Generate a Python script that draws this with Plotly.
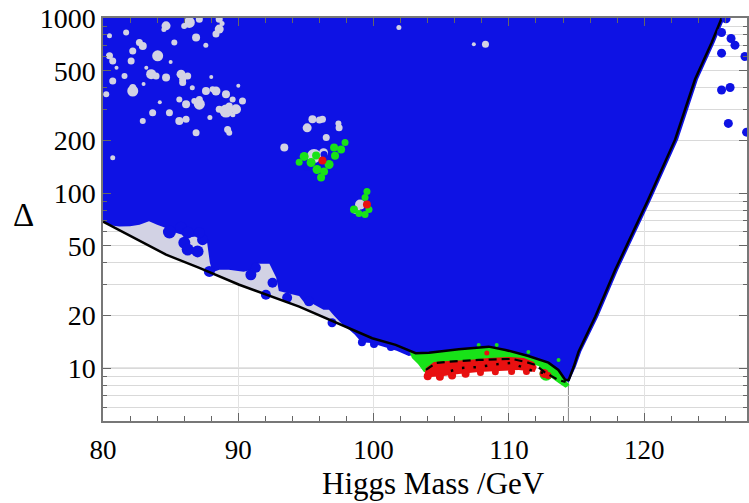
import plotly.graph_objects as go

# ---------------- data ----------------
# black boundary curve
bound_mass = [80.0, 84.66, 87.12, 90.07, 94.50, 98.18, 99.90, 101.63, 103.11, 104.09, 106.30, 108.51,
              109.75, 111.44, 112.92, 113.66, 114.17, 114.42, 114.79, 115.15, 116.38, 117.86, 120.30,
              122.29, 123.76, 124.99, 125.73]
bound_delta = [68.8, 44.5, 37.4, 30.0, 22.5, 17.0, 14.85, 13.6, 12.19, 12.28, 12.85, 13.29,
               12.73, 11.76, 10.77, 9.78, 8.57, 8.57, 10.2, 12.45, 19.7, 36.5, 91.9,
               202.7, 446.8, 724, 1000]

# blue (allowed) region outline
blue_mass = [80.0, 80.5, 81.2, 82.0, 82.7, 83.4, 84.0, 84.6, 85.2, 85.8, 86.4, 87.2, 87.7, 87.9, 88.1,
             88.6, 89.3, 90.4, 91.0, 91.5, 92.3, 92.8, 93.0, 93.8, 94.5, 94.9, 95.4, 95.8, 96.3, 96.7,
             97.1, 97.45, 97.8, 98.2, 98.6, 99.1, 99.8, 100.8, 101.7, 102.6, 103.1, 104.09, 106.30,
             108.51, 109.75, 111.44, 112.92, 113.66, 114.17, 114.42, 114.95, 115.35, 116.6, 118.08,
             120.52, 122.51, 123.98, 125.21, 125.95, 80.0]
blue_delta = [69.7, 65.5, 64.4, 64.6, 66.1, 69.0, 66.1, 63.5, 60.0, 58.0, 56.0, 57.0, 52.0, 40.0, 35.4,
              36.5, 36.5, 35.6, 36.5, 39.5, 39.5, 33.0, 27.6, 26.6, 25.9, 23.6, 23.6, 22.7, 21.6, 21.6,
              19.9, 18.6, 17.5, 16.6, 15.6, 14.1, 13.96, 13.24, 12.6, 11.76, 12.0, 12.28, 12.85,
              13.29, 12.73, 11.76, 10.77, 9.78, 8.57, 8.3, 10.2, 12.45, 19.7, 36.5,
              91.9, 202.7, 446.8, 724, 1000, 1000]

# blue blobs along the lower edge
blob_mass = [84.91, 85.77, 86.26, 86.01, 86.26, 86.99, 87.36, 87.12, 87.86, 90.93, 92.04, 92.53,
             91.30, 93.61, 95.23, 96.93, 99.14, 100.03, 101.28]
blob_delta = [60.0, 63.5, 59.5, 52.1, 47.6, 46.5, 54.2, 59.5, 35.7, 34.2, 26.3, 30.8,
              37.5, 25.3, 24.1, 18.2, 14.1, 13.77, 13.24]
blob_size = [13, 12, 12, 12, 12, 12, 11, 11, 11, 11, 10, 10, 10, 10, 10, 9, 8, 8, 8]

# light-grey holes inside the blue region
hole_mass = [84.66, 86.38, 86.88, 88.59, 88.35, 82.94, 84.04, 85.27, 80.48, 82.20, 80.72, 83.56,
             82.08, 84.66, 85.77, 86.26, 85.89, 82.20, 80.72, 81.59, 87.61, 88.35, 89.09, 87.12,
             86.14, 89.09, 89.83, 90.31, 85.64, 84.91, 83.67, 86.88, 89.21, 82.94, 80.24, 88.59,
             87.12, 82.69, 81.71, 80.48, 82.20, 83.92, 85.89, 87.12, 88.59, 89.33, 89.58, 88.10,
             86.14, 85.64, 86.75, 89.33, 80.72, 101.87, 108.27, 107.41, 95.48, 96.22, 97.45,
             93.4, 95.09, 96.0, 97.4, 96.5, 95.6, 96.3, 99.0, 98.7,
             84.5, 86.0, 87.6, 88.8, 85.0, 83.2, 81.0, 86.6, 88.0, 89.6, 84.2, 87.9, 90.0, 83.0]
hole_delta = [902, 944, 774, 864, 809, 693, 608, 725, 608, 649, 569, 478,
              569, 457, 478, 467, 428, 383, 437, 467, 383, 383, 367, 322,
              322, 294, 301, 336, 258, 288, 288, 221, 231, 258, 367, 985,
              985, 725, 827, 791, 401, 467, 447, 343, 301, 314, 343, 392,
              264, 343, 336, 221, 159, 884, 709, 709, 264, 264, 236,
              182, 236, 262, 250, 208, 163, 170, 86, 80,
              860, 900, 700, 930, 560, 520, 520, 400, 460, 280, 330, 270, 410, 420]
hole_size = [9, 11, 8, 9, 7, 8, 11, 6, 7, 7, 7, 10,
             7, 8, 9, 7, 7, 11, 7, 6, 8, 9, 8, 11,
             8, 13, 10, 7, 8, 7, 7, 7, 7, 6, 6, 7,
             7, 7, 6, 5, 7, 7, 7, 7, 7, 7, 6, 6,
             7, 6, 6, 6, 5, 5, 7, 4, 8, 7, 7,
             8, 9, 7, 6, 7, 14, 9, 10, 8,
             5, 6, 5, 5, 4, 4, 4, 5, 4, 5, 4, 5, 4, 4]

# blue points inside the island holes
idot_mass = [96.34, 95.75, 95.09]
idot_delta = [166.3, 140.1, 140.1]

# green region (bottom)
green_mass = [102.61, 103.11, 104.09, 106.30, 108.51, 109.75, 111.44, 112.92, 113.66, 114.17, 114.49,
              114.19, 113.67, 113.16, 112.57, 112.20, 111.61, 110.73, 107.77, 105.34, 104.23, 103.72,
              103.28, 102.83]
green_delta = [12.7, 12.19, 12.28, 12.85, 13.29, 12.73, 11.76, 10.77, 9.78, 8.57, 8.02,
               7.75, 8.25, 8.8, 9.53, 10.31, 10.58, 10.31, 10.04, 9.78, 9.28, 9.53,
               10.58, 11.46]

# green points (islands and edge)
gpt_mass = [94.87, 95.38, 95.82, 96.12, 96.34, 96.71, 97.15, 97.60, 97.89, 97.08, 94.50, 95.75,
            99.51, 99.37, 98.55, 98.92, 99.37, 99.66, 107.77, 109.1, 111.44, 113.67, 112.75]
gpt_delta = [162, 149.7, 136.5, 122.9, 133, 145.8, 163.5, 177.7, 194.8, 182.4, 150, 164.1,
             102.1, 94.4, 80.6, 76.4, 75.4, 80.6, 13.6, 13.6, 12.4, 11.16, 9.25]
gpt_size = [9, 9, 9, 8, 8, 9, 8, 8, 7, 8, 7, 8,
            7, 7, 8, 7, 7, 7, 4, 4, 4, 4, 13]

# red region (bottom)
red_mass = [103.79, 103.87, 104.46, 105.57, 107.04, 108.51, 109.99, 111.10, 111.84, 112.06, 111.91,
            110.73, 109.25, 107.77, 106.30, 105.19, 104.23]
red_delta = [9.40, 10.04, 10.87, 11.01, 11.16, 11.46, 11.61, 11.46, 10.87, 10.17, 9.53,
             9.78, 9.65, 9.53, 9.28, 9.03, 8.92]

# red points
rpt_mass = [104.0, 104.9, 105.8, 106.8, 107.9, 109.0, 110.2, 111.3, 112.6, 112.9, 108.37, 96.22, 99.51]
rpt_delta = [9.0, 8.95, 9.1, 9.3, 9.45, 9.55, 9.6, 9.6, 9.35, 9.1, 12.24, 153.7, 86.0]
rpt_size = [8, 8, 8, 8, 7, 7, 7, 7, 9, 7, 5, 8, 8]

# dashed and dotted contours
dash_mass = [103.87, 104.61, 105.34, 107.77, 110.21, 111.24, 111.98, 112.72, 113.67, 114.19]
dash_delta = [9.78, 10.72, 10.87, 11.16, 11.31, 10.87, 10.44, 9.40, 8.57, 8.35]
dot_mass = [105.71, 106.52, 107.77, 109.25, 110.14, 111.10, 111.98, 112.72]
dot_delta = [9.65, 10.04, 10.17, 10.58, 10.72, 10.04, 9.53, 9.40]

# isolated blue points right of the boundary
out_mass = [126.05, 125.72, 126.42, 126.71, 125.72, 127.45, 125.72, 126.35, 126.22, 127.57]
out_delta = [990, 827, 764, 700, 630, 603, 388, 401, 250, 223]

x_ticks = [80, 90, 100, 110, 120]
y_ticks = [10, 20, 50, 100, 200, 500, 1000]
y_minor = [6, 7, 8, 9, 30, 40, 60, 70, 80, 90, 300, 400, 600, 700, 800, 900]
lep_bound = 114.4

BLUE = "rgb(14,18,228)"
GREY = "rgb(210,210,228)"
GREEN = "rgb(24,226,24)"
RED = "rgb(232,16,16)"
FONT = "Liberation Serif"


def dots(x, y, color, size):
    return go.Scatter(x=x, y=y, mode="markers", hoverinfo="skip",
                      marker=dict(color=color, size=size, opacity=1, line=dict(width=0)))


def area(x, y, color):
    return go.Scatter(x=x, y=y, fill="toself", mode="none", fillcolor=color, hoverinfo="skip")


fig = go.Figure()
fig.add_trace(area(bound_mass + [80.0], bound_delta + [1000], GREY))
fig.add_trace(area(blue_mass, blue_delta, BLUE))
fig.add_trace(dots(blob_mass, blob_delta, BLUE, blob_size))
fig.add_trace(dots(hole_mass, hole_delta, GREY, hole_size))
fig.add_trace(dots(idot_mass, idot_delta, BLUE, 7))
fig.add_trace(area(green_mass, green_delta, GREEN))
fig.add_trace(dots(gpt_mass, gpt_delta, GREEN, gpt_size))
fig.add_trace(area(red_mass, red_delta, RED))
fig.add_trace(dots(rpt_mass, rpt_delta, RED, rpt_size))
fig.add_trace(go.Scatter(x=bound_mass, y=bound_delta, mode="lines", hoverinfo="skip",
                         line=dict(color="black", width=2.5)))
fig.add_trace(go.Scatter(x=dash_mass, y=dash_delta, mode="lines", hoverinfo="skip",
                         line=dict(color="black", width=2.2, dash="8px,5px")))
fig.add_trace(go.Scatter(x=dot_mass, y=dot_delta, mode="lines", hoverinfo="skip",
                         line=dict(color="black", width=2.5, dash="2.5px,9px")))
fig.add_trace(dots(out_mass, out_delta, BLUE, 9))

fig.add_shape(type="line", xref="paper", yref="y", x0=0, x1=1, y0=10, y1=10,
              line=dict(color="#8a8a8a", width=1), layer="below")
fig.add_shape(type="line", xref="x", yref="paper", x0=lep_bound, x1=lep_bound, y0=0, y1=1,
              line=dict(color="#8a8a8a", width=1), layer="below")

fig.update_xaxes(range=[80, 127.6], tickvals=x_ticks, ticktext=[str(v) for v in x_ticks],
                 showgrid=True, gridcolor="#e2e2e2", gridwidth=1, zeroline=False,
                 ticks="inside", ticklen=8, tickcolor="#666", tickwidth=1,
                 showline=True, linecolor="#777", linewidth=1.5, mirror="ticks",
                 ticklabelstandoff=4,
                 tickfont=dict(family=FONT, size=27, color="black"),
                 minor=dict(dtick=2, tick0=80, ticks="inside", ticklen=5, tickcolor="#666", showgrid=False))
fig.update_yaxes(type="log", range=[0.69897, 3.0], tickvals=y_ticks, ticktext=[str(v) for v in y_ticks],
                 showgrid=True, gridcolor="#d9d9d9", gridwidth=1, zeroline=False,
                 ticks="inside", ticklen=8, tickcolor="#666", tickwidth=1,
                 showline=True, linecolor="#777", linewidth=1.5, mirror="ticks",
                 tickfont=dict(family=FONT, size=28, color="black"),
                 minor=dict(tickmode="array", tickvals=y_minor, ticks="inside", ticklen=4,
                            tickcolor="#666", showgrid=True, gridcolor="#d9d9d9"))

fig.add_annotation(text="Higgs Mass /GeV", xref="paper", yref="paper", x=(435 - 103) / (749 - 103),
                   y=-(503 - 420.7) / (420.7 - 18.5), showarrow=False, xanchor="center", yanchor="bottom",
                   font=dict(family=FONT, size=31, color="black"))
fig.add_annotation(text="Δ", xref="paper", yref="paper", x=-(103 - 23) / (749 - 103),
                   y=(420.7 - 215) / (420.7 - 18.5), showarrow=False, xanchor="center", yanchor="middle",
                   font=dict(family=FONT, size=33, color="black"))

fig.update_layout(width=749, height=503, margin=dict(l=103, r=0, t=18, b=82),
                  paper_bgcolor="white", plot_bgcolor="white", showlegend=False)

fig.write_html("out.html")
